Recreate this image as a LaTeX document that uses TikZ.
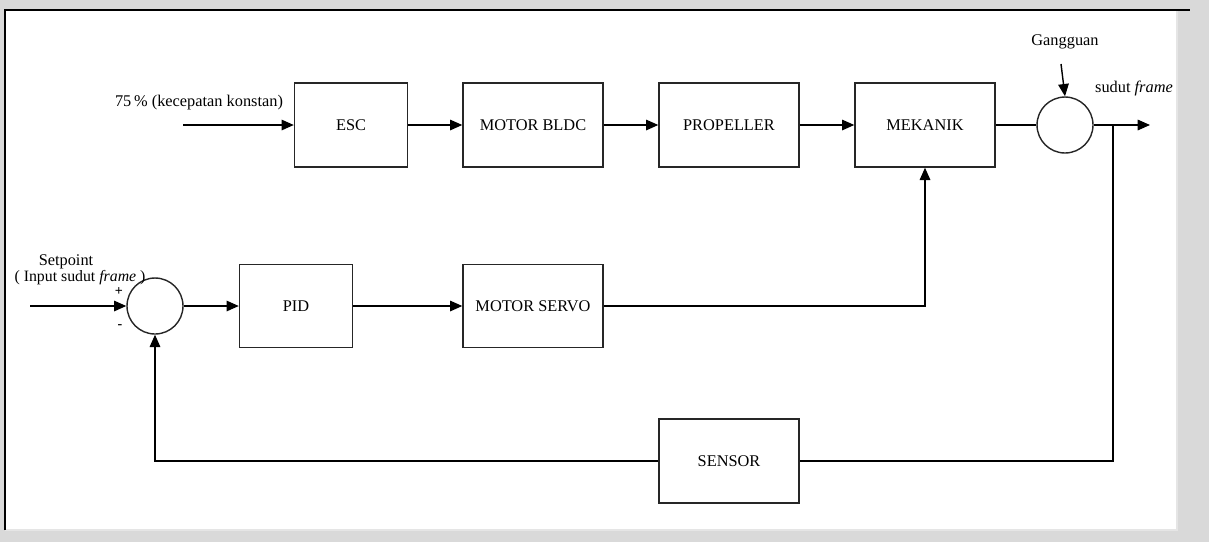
\documentclass[tikz,border=0pt]{standalone}
\usepackage{fontspec}
\setmainfont{Liberation Serif}
\usepackage{tikz}
\usetikzlibrary{arrows.meta,positioning,calc}

\begin{document}
\begin{tikzpicture}[
    x=0.02cm, y=-0.02cm,
    line width=0.8pt,
    font=\fontsize{9.3}{11}\selectfont,
    block/.style={rectangle, draw=black!85, minimum width=2.8cm, minimum height=1.68cm, inner sep=0pt},
    sblock/.style={block, minimum width=2.26cm},
    sum/.style={circle, draw=black!85, minimum size=1.12cm, inner sep=0pt},
    arrow/.style={-{Triangle[length=7pt,width=6pt]}},
    lbl/.style={inner sep=1pt},
    sign/.style={inner sep=0pt, font=\fontsize{8}{9}\selectfont\bfseries}
]
% Frame
\useasboundingbox (0,0) rectangle (1209,542);
\fill[black!15] (0,0) rectangle (1209,542);
\fill[white] (5,10) rectangle (1177,530);
\draw[black!10, line width=0.6pt] (1177,10) -- (1177,530) -- (5,530);
\draw[line width=1.6pt] (5,530) -- (5,10) -- (1190,10);

% Upper row
\node[sblock] (esc) at (351,125) {ESC};
\node[block] (bldc) at (533,125) {MOTOR BLDC};
\node[block] (propeller) at (729,125) {PROPELLER};
\node[block] (mekanik) at (925,125) {MEKANIK};
\node[sum] (gangguan) at (1065,125) {};

% Lower row
\node[sum] (sum) at (155,306) {};
\node[sblock, minimum height=1.66cm] (pid) at (296,306) {PID};
\node[block, minimum height=1.66cm] (servo) at (533,306) {MOTOR SERVO};
\node[block] (sensor) at (729,461) {SENSOR};

% Inputs and output
\coordinate (konst) at (183,125);
\coordinate (sp) at (30,306);
\coordinate (ganggu) at (1061,64);
\coordinate (out) at (1150,125);
\coordinate (branch) at (1113,125);

\node[lbl] at (199,103) {75\,\% (kecepatan konstan)};
\node[lbl] at (66,262) {Setpoint};
\node[lbl, font=\fontsize{9}{10}\selectfont] at (80,278) {( Input sudut \textit{frame} )};
\node[sign] at (119,292) {+};
\node[sign] at (120,327) {-};
\node[lbl] at (1065,42) {Gangguan};
\node[lbl] at (1134,88) {sudut \textit{frame}};

% Forward path
\draw[arrow] (konst) -- (esc);
\draw[arrow] (esc) -- (bldc);
\draw[arrow] (bldc) -- (propeller);
\draw[arrow] (propeller) -- (mekanik);
\draw (mekanik) -- (gangguan);
\draw[arrow] (ganggu) -- (gangguan.north);
\draw[arrow] (gangguan) -- (out);

% Control path
\draw[arrow] (sp) -- (sum);
\draw[arrow] (sum) -- (pid);
\draw[arrow] (pid) -- (servo);
\draw[arrow] (servo) -| (mekanik);

% Feedback
\draw (branch) |- (sensor);
\draw[arrow] (sensor) -| (sum);

\end{tikzpicture}
\end{document}
